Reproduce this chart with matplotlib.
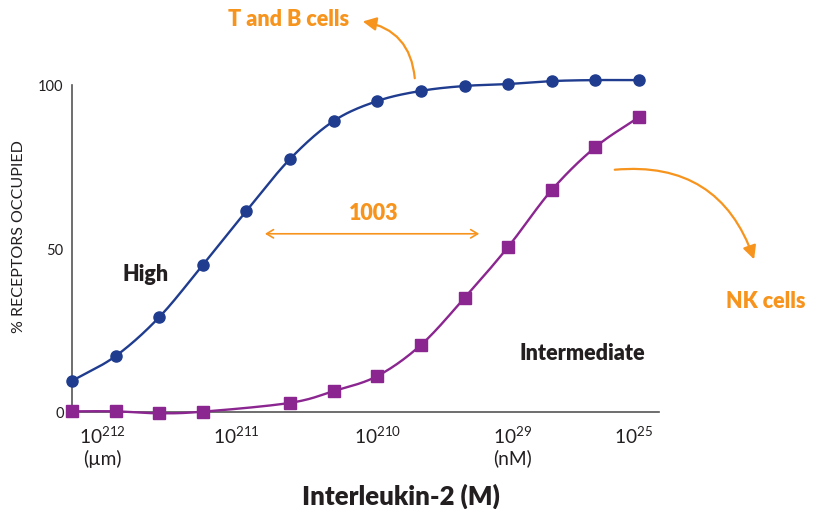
import numpy as np
import matplotlib
matplotlib.use("Agg")
import matplotlib.pyplot as plt
from matplotlib.patches import FancyArrowPatch

plt.rcParams['font.family'] = ['Lato', 'DejaVu Sans']
plt.rcParams['mathtext.fontset'] = 'custom'
plt.rcParams['mathtext.rm'] = 'Lato'
plt.rcParams['mathtext.it'] = 'Lato'
plt.rcParams['mathtext.bf'] = 'Lato:bold'

# Data (x in log-decade index units)
high_x = [-1/3, 0, 1/3, 2/3, 1, 4/3, 5/3, 2, 7/3, 8/3, 3, 10/3, 11/3, 4]
high_y = [9.5, 17.1, 29.0, 45.0, 61.5, 77.4, 89.0, 95.1, 98.2, 99.7, 100.3, 101.2, 101.5, 101.5]
inter_x = [-1/3, 0, 1/3, 2/3, 4/3, 5/3, 2, 7/3, 8/3, 3, 10/3, 11/3, 4]
inter_y = [0.2, 0.2, -0.4, 0.1, 2.8, 6.4, 11.0, 20.5, 34.9, 50.5, 67.9, 81.0, 90.2]
tick_pos = [-0.10, 0.92, 2.00, 3.03, 3.96]
tick_labels = [r"$\mathregular{10^{212}}$" + "\n(µm)", r"$\mathregular{10^{211}}$",
               r"$\mathregular{10^{210}}$", r"$\mathregular{10^{29}}$" + "\n(nM)",
               r"$\mathregular{10^{25}}$"]

BLUE = "#1f3c8f"
PURPLE = "#8b2590"
ORANGE = "#f7941d"
DARK = "#231f20"
BW = 'heavy'


def catmull(xs, ys, n=20):
    xs = np.asarray(xs, float); ys = np.asarray(ys, float)
    px = np.concatenate([[2*xs[0]-xs[1]], xs, [2*xs[-1]-xs[-2]]])
    py = np.concatenate([[2*ys[0]-ys[1]], ys, [2*ys[-1]-ys[-2]]])
    ox, oy = [], []
    for i in range(1, len(px)-2):
        t = np.linspace(0, 1, n, endpoint=False)
        for p, o in ((px, ox), (py, oy)):
            p0, p1, p2, p3 = p[i-1], p[i], p[i+1], p[i+2]
            o.extend(0.5*((2*p1) + (-p0+p2)*t + (2*p0-5*p1+4*p2-p3)*t**2 + (-p0+3*p1-3*p2+p3)*t**3))
    ox.append(xs[-1]); oy.append(ys[-1])
    return np.array(ox), np.array(oy)


fig = plt.figure(figsize=(8.2, 5.1), dpi=100)
ax = fig.add_axes([72/820, (510-413)/510, (659-72)/820, (413-86)/510*1.0])
ax.set_xlim(-1/3, (659-115)/131)
ax.set_ylim(0, 100)

cx, cy = catmull(high_x, high_y)
ax.plot(cx, cy, color=BLUE, lw=1.7, clip_on=False, zorder=3)
ax.plot(high_x, high_y, 'o', color=BLUE, ms=8, clip_on=False, zorder=4)
cx, cy = catmull(inter_x, inter_y)
ax.plot(cx, cy, color=PURPLE, lw=1.7, clip_on=False, zorder=3)
ax.plot(inter_x, inter_y, 's', color=PURPLE, ms=8.5, clip_on=False, zorder=4)

for s in ('top', 'right'):
    ax.spines[s].set_visible(False)
for s in ('left', 'bottom'):
    ax.spines[s].set_color("#555555")
    ax.spines[s].set_linewidth(1.2)

ax.set_yticks([0, 50, 100])
ax.set_yticklabels(['0', '50', '100'], fontsize=10.5, color=DARK)
ax.tick_params(axis='y', length=0, pad=6)
ax.set_xticks(tick_pos)
ax.set_xticklabels(tick_labels, fontsize=13.8, color=DARK, linespacing=1.2, va='top')
ax.tick_params(axis='x', length=0, pad=9)

ax.set_ylabel("% RECEPTORS OCCUPIED", fontsize=11.5, color=DARK)
ax.yaxis.set_label_coords(-46/587, 0.54)
ax.set_xlabel("Interleukin-2 (M)", fontsize=18.5, fontweight=BW, color=DARK)
ax.xaxis.set_label_coords((401-72)/587, -0.215)

ax.text(0.23, 42.5, "High", fontsize=15.5, fontweight=BW, color=DARK, ha='center', va='center')
ax.text(3.57, 18.3, "Intermediate", fontsize=15.5, fontweight=BW, color=DARK, ha='center', va='center')

# 1003 arrow
ax.text(1.97, 61, "1003", fontsize=15.5, fontweight=BW, color=ORANGE, ha='center', va='center')
ax.add_patch(FancyArrowPatch((1.12, 54.5), (2.8, 54.5), arrowstyle='<->,head_length=5,head_width=3',
                             color=ORANGE, lw=1.2, mutation_scale=1))

# T and B cells
fig.text(289/820, 1-20/510, "T and B cells", fontsize=15.5, fontweight=BW, color=ORANGE, ha='center', va='center')
fig.patches.append(FancyArrowPatch((415/820, 1-82/510), (360/820, 1-22/510), transform=fig.transFigure,
                                   connectionstyle="arc3,rad=0.4", arrowstyle='-|>,head_length=8,head_width=4',
                                   color=ORANGE, lw=1.6, mutation_scale=1))
# NK cells
fig.text(766/820, 1-302/510, "NK cells", fontsize=15.5, fontweight=BW, color=ORANGE, ha='center', va='center')
fig.patches.append(FancyArrowPatch((612/820, 1-171/510), (755/820, 1-263/510), transform=fig.transFigure,
                                   connectionstyle="arc3,rad=-0.4", arrowstyle='-|>,head_length=8,head_width=4',
                                   color=ORANGE, lw=1.6, mutation_scale=1))

fig.savefig("out.png", dpi=100)
